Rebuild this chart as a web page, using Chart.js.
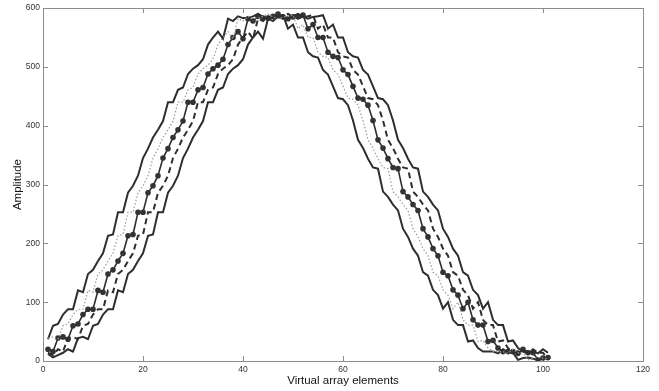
<!DOCTYPE html>
<html><head><meta charset="utf-8">
<script src="https://cdn.jsdelivr.net/npm/chart.js@4/dist/chart.umd.min.js"></script>
<style>html,body{margin:0;padding:0;background:#fff}#wrap{width:659px;height:391px;position:relative}</style>
</head><body><div id="wrap"><canvas id="c" width="659" height="391"></canvas></div>
<script>
const elements = [1,2,3,4,5,6,7,8,9,10,11,12,13,14,15,16,17,18,19,20,21,22,23,24,25,26,27,28,29,30,31,32,33,34,35,36,37,38,39,40,41,42,43,44,45,46,47,48,49,50,51,52,53,54,55,56,57,58,59,60,61,62,63,64,65,66,67,68,69,70,71,72,73,74,75,76,77,78,79,80,81,82,83,84,85,86,87,88,89,90,91,92,93,94,95,96,97,98,99,100,101];

const centerVals = [20,16,39,41,37,60,63,79,88,88,
120,117,148,155,170,183,213,215,253,253,
286,298,315,345,361,380,393,408,440,440,
461,465,488,497,503,513,538,550,560,548,
582,578,586,583,583,586,590,585,582,585,
586,588,565,572,550,550,525,518,516,495,
487,467,447,445,435,409,376,362,344,329,
327,288,279,266,256,225,211,191,179,151,
145,121,112,89,100,70,61,61,33,35,
22,16,16,16,13,20,14,14,2,5,6];

const leftSolidVals = [37,60,63,79,88,88,120,117,148,155,
170,183,213,215,253,253,286,298,315,345,
361,380,393,408,440,440,461,465,488,497,
503,513,538,550,560,548,582,578,586,583,
583,586,590,585,582,585,586,588,565,572,
550,550,525,518,516,495,487,467,447,445,
435,409,376,362,344,329,327,288,279,266,
256,225,211,191,179,151,145,121,112,89,
100,70,61,61,33,35,22,16,16,16,
13,20,14,14,2,5,6,4,3,5,4];

const dottedVals = [39,41,37,60,63,79,88,88,120,117,
148,155,170,183,213,215,253,253,286,298,
315,345,361,380,393,408,440,440,461,465,
488,497,503,513,538,550,560,548,582,578,
586,583,583,586,590,585,582,585,586,588,
565,572,550,550,525,518,516,495,487,467,
447,445,435,409,376,362,344,329,327,288,
279,266,256,225,211,191,179,151,145,121,
112,89,100,70,61,61,33,35,22,16,
16,16,13,20,14,14,2,5,6,5,4];

const dashedVals = [14,10,20,16,39,41,37,60,63,79,
88,88,120,117,148,155,170,183,213,215,
253,253,286,298,315,345,361,380,393,408,
440,440,461,465,488,497,503,513,538,550,
560,548,582,578,586,583,583,586,590,585,
582,585,586,588,565,572,550,550,525,518,
516,495,487,467,447,445,435,409,376,362,
344,329,327,288,279,266,256,225,211,191,
179,151,145,121,112,89,100,70,61,61,
33,35,22,16,16,16,13,20,14,14,2];

const rightSolidVals = [12,6,10,14,20,16,39,41,37,60,
63,79,88,88,120,117,148,155,170,183,
213,215,253,253,286,298,315,345,361,380,
393,408,440,440,461,465,488,497,503,513,
538,550,560,548,582,578,586,583,583,586,
590,585,582,585,586,588,565,572,550,550,
525,518,516,495,487,467,447,445,435,409,
376,362,344,329,327,288,279,266,256,225,
211,191,179,151,145,121,112,89,100,70,
61,61,33,35,22,16,16,16,13,20,14];

const xTicks = [0,20,40,60,80,100,120];
const yTicks = [0,100,200,300,400,500,600];

const pts = vals => vals.map((v,i)=>({x: elements[i], y: v}));

const boxPlugin = {
  id: 'box',
  beforeDatasetsDraw(chart){
    const {ctx, chartArea:a, scales:{x,y}} = chart;
    ctx.save();
    ctx.strokeStyle = '#8c8c8c';
    ctx.lineWidth = 1;
    ctx.strokeRect(Math.round(a.left)+0.5, Math.round(a.top)+0.5, Math.round(a.right-a.left), Math.round(a.bottom-a.top));
    const L = 5;
    ctx.beginPath();
    x.ticks.forEach(t=>{
      const px = Math.round(x.getPixelForValue(t.value))+0.5;
      ctx.moveTo(px, a.bottom); ctx.lineTo(px, a.bottom-L);
      ctx.moveTo(px, a.top); ctx.lineTo(px, a.top+L);
    });
    y.ticks.forEach(t=>{
      const py = Math.round(y.getPixelForValue(t.value))+0.5;
      ctx.moveTo(a.left, py); ctx.lineTo(a.left+L, py);
      ctx.moveTo(a.right, py); ctx.lineTo(a.right-L, py);
    });
    ctx.stroke();
    ctx.restore();
  }
};

const FONT = "'Liberation Sans', Arial, Helvetica, sans-serif";

new Chart(document.getElementById('c'), {
  type: 'line',
  data: {
    datasets: [
      {data: pts(dottedVals), borderColor: '#9a9a9a', borderWidth: 1.2, borderDash: [1.5,2], pointRadius: 0, tension: 0},
      {data: pts(leftSolidVals), borderColor: '#2e2e2e', borderWidth: 2, pointRadius: 0, tension: 0},
      {data: pts(rightSolidVals), borderColor: '#2e2e2e', borderWidth: 2, pointRadius: 0, tension: 0},
      {data: pts(dashedVals), borderColor: '#2e2e2e', borderWidth: 2, borderDash: [6,4], pointRadius: 0, tension: 0},
      {data: pts(centerVals), borderColor: '#2e2e2e', borderWidth: 1.6, pointRadius: 2.8, pointBackgroundColor: '#333', pointBorderWidth: 0, tension: 0}
    ]
  },
  options: {
    responsive: false,
    animation: false,
    devicePixelRatio: 1,
    layout: {padding: {top: 5, right: 16, left: 0, bottom: 0}},
    plugins: {legend: {display: false}, tooltip: {enabled: false}},
    scales: {
      x: {
        type: 'linear', min: 0, max: 120,
        afterBuildTicks(s){ s.ticks = xTicks.map(v=>({value:v})); },
        ticks: {font: {family: FONT, size: 8.5}, color: '#333', padding: 4, maxRotation: 0},
        grid: {display: false, drawTicks: false},
        border: {display: false},
        title: {display: true, text: 'Virtual array elements', font: {family: FONT, size: 11.5}, color: '#111', padding: {top: 0, bottom: 3}},
        afterFit(s){ s.height = 30; }
      },
      y: {
        type: 'linear', min: 0, max: 600,
        afterBuildTicks(s){ s.ticks = yTicks.map(v=>({value:v})); },
        ticks: {font: {family: FONT, size: 8.5}, color: '#333', padding: 3},
        grid: {display: false, drawTicks: false},
        border: {display: false},
        title: {display: true, text: 'Amplitude', font: {family: FONT, size: 11.5}, color: '#111', padding: {top: 11, bottom: 0}},
        afterFit(s){ s.width = 43; }
      }
    }
  },
  plugins: [boxPlugin]
});
</script>
</body></html>
